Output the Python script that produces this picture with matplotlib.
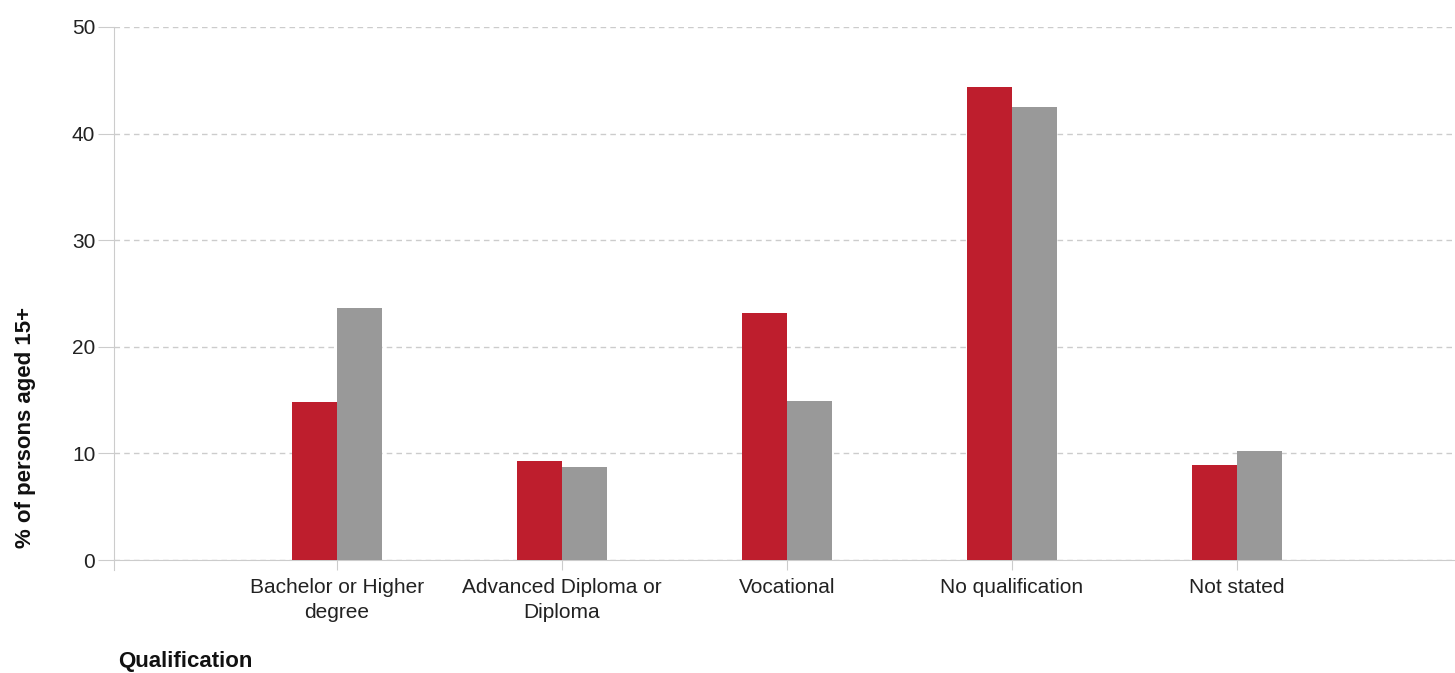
import matplotlib
matplotlib.use('Agg')
import matplotlib.pyplot as plt
import numpy as np

categories = ['Bachelor or Higher\ndegree', 'Advanced Diploma or\nDiploma',
              'Vocational', 'No qualification', 'Not stated']
series_red = [14.8, 9.3, 23.2, 44.4, 8.9]
series_grey = [23.6, 8.7, 14.9, 42.5, 10.2]
y_ticks = [0, 10, 20, 30, 40, 50]

plt.rcParams['font.family'] = ['Liberation Sans', 'DejaVu Sans']

fig = plt.figure(figsize=(14.55, 6.73), dpi=100)
ax = fig.add_axes([114 / 1455, 1 - 560 / 673, 1 - 114 / 1455, (560 - 27) / 673])

x = np.arange(1, len(categories) + 1)
w = 0.2
ax.bar(x - w / 2, series_red, width=w, color='#BE1E2D', zorder=3)
ax.bar(x + w / 2, series_grey, width=w, color='#999999', zorder=3)

ax.set_xlim(0.01, 5.97)
ax.set_ylim(0, 50)
ax.set_yticks(y_ticks)
ax.set_xticks(x)
ax.set_xticklabels(categories, fontsize=15, color='#222222', linespacing=1.35)
ax.tick_params(axis='y', labelsize=15, labelcolor='#222222', length=11.5,
               color='#cccccc', pad=2)
ax.tick_params(axis='x', length=7.2, color='#cccccc', pad=6)

ax.grid(axis='y', color='#cccccc', linestyle=(0, (4, 3)), linewidth=1, zorder=0)

for s in ['top', 'right']:
    ax.spines[s].set_visible(False)
ax.spines['left'].set_color('#cccccc')
ax.spines['left'].set_bounds(-0.95, 50)
ax.spines['bottom'].set_color('#cccccc')

fig.text(25 / 1455, 1 - 428 / 673, '% of persons aged 15+', rotation=90,
         fontsize=16, fontweight='bold', color='#111111', ha='center', va='center')
fig.text(118 / 1455, 1 - 662 / 673, 'Qualification', fontsize=16,
         fontweight='bold', color='#111111', ha='left', va='center')

fig.savefig('out.png', dpi=100)
